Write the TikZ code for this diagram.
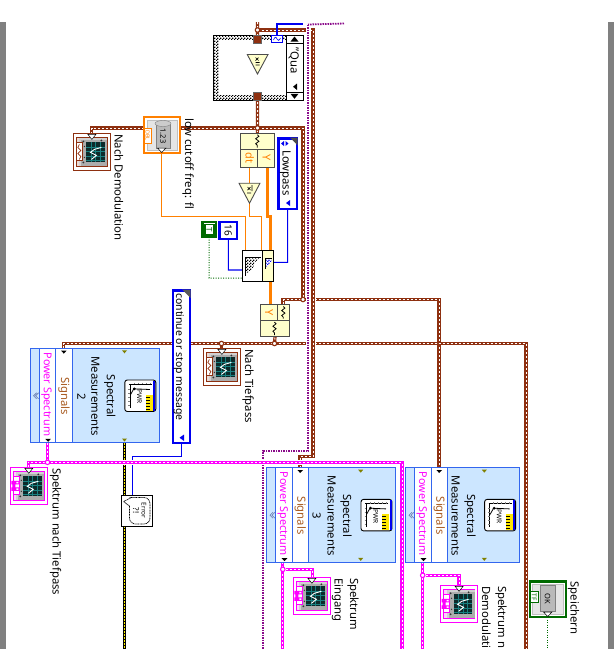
\documentclass[tikz,border=0pt]{standalone}
\usepackage{fontspec}
\setmainfont{Noto Sans}
\usetikzlibrary{patterns,decorations.pathmorphing}
\definecolor{brn}{HTML}{8E3010}
\definecolor{pnk}{HTML}{FF00FF}
\definecolor{prp}{HTML}{8A0A8A}
\definecolor{org}{HTML}{FF8000}
\definecolor{blu}{HTML}{0000F0}
\definecolor{grn}{HTML}{006A00}
\definecolor{smblue}{HTML}{CCE6FF}
\definecolor{smedge}{HTML}{3366EE}
\definecolor{cream}{HTML}{FFFFCC}
\definecolor{graybar}{HTML}{808080}
\definecolor{sigtxt}{HTML}{A85A20}
\definecolor{olive}{HTML}{808000}
\definecolor{screen}{HTML}{0C2A2A}
\pgfdeclarepatternformonly{finechk}{\pgfpointorigin}{\pgfqpoint{3pt}{3pt}}{\pgfqpoint{3pt}{3pt}}{%
  \pgfpathrectangle{\pgfpointorigin}{\pgfqpoint{1.5pt}{1.5pt}}%
  \pgfpathrectangle{\pgfqpoint{1.5pt}{1.5pt}}{\pgfqpoint{1.5pt}{1.5pt}}%
  \pgfusepath{fill}}
\pgfdeclarelayer{wires}
\pgfsetlayers{wires,main}
\tikzset{
  box/.style={rectangle,inner sep=0pt,outer sep=0pt,draw=black},
  cblock/.style={box,draw=black!70,line width=.9pt,fill=cream},
  wbrown/.style={draw=brn,line width=3.2pt,postaction={draw=white,line width=1pt,dash pattern=on 2pt off 2pt}},
  wpink/.style={draw=pnk,line width=3.2pt,postaction={draw=white,line width=.9pt,dash pattern=on 2pt off 2pt}},
  halo/.style={draw=white,line width=5pt},
  wpurple/.style={draw=prp,line width=1.8pt,dash pattern=on 1.5pt off 1pt},
  wyellow/.style={draw=black,line width=3pt,postaction={draw=yellow,line width=1.4pt,dash pattern=on 2pt off 1pt}},
  wblue/.style={draw=blu,line width=1.1pt},
  worg/.style={draw=org,line width=1pt},
  worgt/.style={draw=org,line width=3pt},
  wgreen/.style={draw=grn,line width=1pt,dash pattern=on 1pt off 1.5pt},
  lbl/.style={rotate=-90,anchor=base west,inner sep=0pt,font=\fontsize{11.3}{13}\selectfont},
  clbl/.style={rotate=-90,anchor=base,inner sep=0pt,font=\fontsize{11.3}{13}\selectfont},
  jbrown/.style={circle,draw=brn,line width=1.1pt,fill=white,minimum size=4.5pt,inner sep=0pt},
  jpink/.style={circle,draw=pnk,line width=1.1pt,fill=white,minimum size=4.5pt,inner sep=0pt},
  chk/.style={fill=white,postaction={pattern=finechk}},
}
\newcommand\mybx[7]{%
  \pgfmathsetmacro\cxx{(#2+#4)/2}\pgfmathsetmacro\cyy{(#3+#5)/2}%
  \pgfmathsetmacro\www{abs(#4-#2)}\pgfmathsetmacro\hhh{abs(#5-#3)}%
  \node[box,#6,minimum width=\www pt,minimum height=\hhh pt] (#1) at (\cxx,\cyy) {#7};}
% wave glyph
\newcommand\wv[2]{\draw[black,line width=.8pt,decorate,decoration={snake,amplitude=1.6pt,segment length=5pt}] (#1,#2-6.5) -- (#1,#2+6.5);}
% power-spectrum icon
\newcommand\pwricon[3]{%
  \begin{scope}[shift={(#2,#3)}]
    \node[box,line width=.9pt,fill=white,rounded corners=2.5pt,minimum width=31pt,minimum height=31.5pt] (#1) at (15.5,15.75) {};
    \fill[blu] (28.6,1) rectangle (30.6,30.5);
    \draw[black,line width=.6pt] (4,4.3) -- (27,4.3) (5,4.3) -- (5,28);
    \foreach \t in {9,13,17,21,25} {\draw[gray,line width=.5pt] (\t,2.8) -- (\t,4.3);}
    \foreach \t in {9,13,17,21,25} {\draw[gray,line width=.5pt] (3.5,\t) -- (5,\t);}
    \draw[black,line width=.8pt] (5.5,15) -- (9,8.8) -- (25,9.5);
    \fill[black] (9.5,8.8) circle (1.5pt);
    \fill[yellow!90!orange] (21.3,15) rectangle (28.3,30.5);
    \foreach \t in {17,20,23,26,29} {\draw[black,line width=.5pt] (21.3,\t) -- (25,\t);}
    \node[rotate=-90,inner sep=0pt,font=\fontsize{6.5}{7}\selectfont\bfseries] (#1t) at (14.7,17) {PWR};
  \end{scope}}
% Spectral Measurements express VI
\newcommand\specm[6]{%  name, x0, y0, right edge x, text lines offset, number
  \begin{scope}[shift={(#2,#3)}]
    \pgfmathsetmacro\wdd{#4-#2}
    \mybx{#1}{0}{0}{\wdd}{94.6}{draw=smedge,line width=1pt,fill=smblue}{}
    \mybx{#1ps}{9.2}{0}{25.3}{94.6}{draw=smedge,line width=1pt,fill=white}{}
    \mybx{#1sg}{25.3}{0}{42}{94.6}{draw=smedge,line width=1pt,fill=white}{}
    \draw[gray!60!smedge,line width=.6pt] (6.3,44.5) -- (3.3,47.5) -- (6.3,50.5) (8.3,44.5) -- (5.3,47.5) -- (8.3,50.5);
    \node[clbl,pnk,font=\fontsize{10.8}{13}\selectfont] (#1pt) at (13.5,46) {Power Spectrum};
    \node[clbl,sigtxt] (#1st) at (30.7,48) {Signals};
    \fill[black] (30.7,2.3) -- (36.3,2.3) -- (33.5,5.3) -- cycle;
    \fill[black] (15,90.5) -- (20.6,90.5) -- (17.8,93.5) -- cycle;
    \pgfmathsetmacro\tx{\wdd-37.5}
    \fill[olive] (\tx,2) -- (\tx+5,2) -- (\tx+2.5,5) -- cycle;
    \fill[olive] (\tx,90.2) -- (\tx+5,90.2) -- (\tx+2.5,93.2) -- cycle;
    \node[clbl] (#1l1) at (#5+15.5,48) {Spectral};
    \node[clbl] (#1l2) at (#5,48) {Measurements};
    #6
  \end{scope}%
  \pgfmathsetmacro\ix{#4-34.7}\pgfmathsetmacro\iy{#3+31.7}%
  \pwricon{#1i}{\ix}{\iy}}
% graph indicator
\newcommand\indic[5]{% name,x,y,colour,tag content
  \begin{scope}[shift={(#2,#3)}]
    \node[box,draw=#4,line width=1pt,fill=white,minimum size=37.2pt] (#1) at (18.6,18.6) {};
    \draw[#4,line width=1pt,fill=#4!18!white] (3.3,3.7) rectangle (34,33.5);
    \fill[gray!65] (6,5) rectangle (34,32.5);
    \fill[gray!35] (6,5) rectangle (34,7);
    \fill[gray!35] (6,5) rectangle (8,32.5);
    \fill[screen] (13,9) rectangle (31.5,28.5);
    \foreach \t in {13.5,18,22.5,27} {\draw[teal!80!gray,line width=.5pt] (13,\t) -- (31.5,\t);}
    \foreach \t in {17.6,22.2,26.8} {\draw[teal!80!gray,line width=.5pt] (\t,9) -- (\t,28.5);}
    \draw[white,line width=.9pt] (28,14) -- (21,16) -- (17,19) -- (23,22) -- (18,26);
    \fill[black!80] (10,8) circle (1pt) (10,29) circle (1pt) (28,7) circle (1pt) (11,13) circle (.7pt) (11,24) circle (.7pt);
    \draw[#4,line width=1pt,fill=white] (3.3,9) rectangle (9,27.5);
    #5
    \fill[white,draw=black,line width=.5pt] (14.5,1) -- (22.5,1) -- (18.5,6) -- cycle;
  \end{scope}}
\newcommand\tagwave{\draw[brn,line width=.7pt] (6,11) -- (4.5,14) -- (7.5,17) -- (4.5,20) -- (7.5,23) -- (6,26);}
\newcommand\tagpink{\fill[pnk] (1,13.5) rectangle (9,17) (1,20) rectangle (9,23.5) (2,16) rectangle (5,21);\fill[white] (6,14.5) rectangle (8,16) (6,21) rectangle (8,22.5);}
\begin{document}
\begin{tikzpicture}[x=1pt,y=-1pt]
\useasboundingbox (0,0) rectangle (614,649);
\fill[graybar] (0,22) rectangle (6,649);
\fill[graybar] (608,22) rectangle (614,649);

% ---------- loop / case structure
\mybx{loop}{213.5}{35}{303}{100}{line width=1pt,chk}{}
\mybx{loopin}{218.7}{40}{286}{95}{draw=none,fill=white}{}
\mybx{sel}{286}{35}{303}{100}{line width=1pt,fill=white}{}
\draw[black,line width=1pt] (286,43) -- (303,43) (286,92.3) -- (303,92.3);
\fill[black] (290.5,41.5) -- (298.5,41.5) -- (294.5,36.5) -- cycle;
\fill[black] (290.5,93.8) -- (298.5,93.8) -- (294.5,98.8) -- cycle;
\fill[black] (297,83.5) -- (297,90) -- (293,86.7) -- cycle;
\node[lbl] (seltxt) at (290.5,47.5) {"Qua};
\mybx{tun1}{253.5}{35.5}{261.5}{43.5}{draw=black!60,line width=.4pt,fill=brn}{}
\mybx{tun2}{253.5}{92.5}{261.5}{100}{draw=black!60,line width=.4pt,fill=brn}{}
\mybx{blt}{271.5}{35.5}{282.5}{42.5}{draw=blu,line width=1.2pt,fill=white}{}
\draw[blu,line width=.6pt] (273.5,40) .. controls (275,36.5) and (276,36.5) .. (277,39) .. controls (278,41) and (279,41) .. (280.5,38);
\coordinate (t1n) at (247.3,54.5);
\draw[draw=black!70,line width=.9pt,fill=cream] (t1n) -- (268,54.5) -- (257.5,74) -- cycle;
\draw[black,line width=.7pt] (255.5,57.5) -- (258.5,60.5) (258.5,57.5) -- (255.5,60.5) (255.5,62.5) -- (259.5,62.5) (255.5,65) -- (259.5,65);
\coordinate (t1top) at (257.5,54.5);

% ---------- Y / dt
\mybx{ydt}{240.7}{133}{274}{167}{cblock}{}
\draw[black!70,line width=.9pt] (240.7,149.3) -- (274,149.3) (257.3,149.3) -- (257.3,167);
\wv{257.3}{141.2}
\node[clbl,org,font=\fontsize{11}{12}\selectfont] (dttxt) at (245.5,158) {dt};
\node[clbl,org,font=\fontsize{11}{12}\selectfont] (ytxt) at (262.5,158) {Y};
\coordinate (t2n) at (239,183.2);
\draw[draw=black!70,line width=.9pt,fill=cream] (t2n) -- (260,183.2) -- (249.5,203.2) -- cycle;
\draw[black,line width=.7pt] (247.5,187) -- (250.5,190) (250.5,187) -- (247.5,190) (252,185) -- (252,191) (247,193) -- (251,193);

% ---------- Lowpass
\mybx{lowp}{278.5}{138.5}{296.7}{209}{draw=blu,line width=2.2pt,fill=white}{}
\fill[black!70] (290,137.5) -- (297.7,137.5) -- (297.7,145.5) -- cycle;
\fill[blu] (284,141) -- (284,146) -- (281,143.5) -- cycle;
\fill[blu] (285.5,141) -- (285.5,146) -- (288.5,143.5) -- cycle;
\fill[blu] (290,200) -- (290,206) -- (286,203) -- cycle;
\node[clbl] (lptxt) at (282.5,173) {Lowpass};

% ---------- constants
\mybx{cT}{202.5}{222}{216}{237}{draw=grn,line width=2.2pt,fill=white}{}
\fill[grn] (204,223.5) rectangle (214.5,235.5);
\mybx{cTi}{205.5}{225}{213}{234}{draw=none,fill=white}{}
\node[rotate=-90,inner sep=0pt,font=\fontsize{8}{9}\selectfont\bfseries,grn] (cTt) at (209.3,229.5) {T};
\mybx{c16}{219.5}{222}{237.2}{239.2}{draw=blu,line width=2.2pt,fill=white}{}
\node[rotate=-90,inner sep=0pt,font=\fontsize{10}{11}\selectfont] (c16t) at (228.3,230.5) {16};

% ---------- filter
\mybx{filt}{242.3}{250}{273.3}{281.5}{line width=1pt,fill=white}{}
\mybx{filtr}{262.3}{250}{273.3}{281.5}{line width=1pt,fill=cream}{}
\fill[white,postaction={pattern=finechk}] (246,258.3) -- (259.5,258.3) -- (254.5,262.5) -- (253,268) -- (248,272.5) -- (246,272.5) -- cycle;
\draw[black,line width=.8pt] (245.3,257.7) -- (260.5,257.7) (245.3,257.7) -- (245.3,276);
\fill[white,postaction={pattern=finechk,pattern color=blue}] (266,258) -- (271.3,258) -- (271.3,262) -- (266,267) -- cycle;
\draw[black,line width=.7pt] (265.5,258) -- (271.5,258) (265.5,258) -- (265.5,269);

% ---------- Y out block
\mybx{ywv}{260.7}{304}{289.3}{336.7}{cblock}{}
\draw[black!70,line width=.9pt] (260.7,320.7) -- (289.3,320.7) (277.3,304) -- (277.3,320.7);
\node[clbl,org,font=\fontsize{11}{12}\selectfont] (y2txt) at (265,312.3) {Y};
\draw[black,line width=.8pt,decorate,decoration={snake,amplitude=1.6pt,segment length=5pt}] (283.3,306.5) -- (283.3,318.5);
\wv{274.5}{328.7}

% ---------- low cutoff control
\mybx{ctrl}{144}{117}{180}{152.8}{draw=org,line width=2.4pt,fill=white}{}
\mybx{ctrli}{147}{120}{177.5}{150}{draw=gray!50,line width=.5pt,fill=gray!20}{}
\mybx{ctrlt}{144.5}{128}{151}{143}{draw=org,line width=1pt,fill=white}{}
\node[rotate=-90,inner sep=0pt,font=\fontsize{5.5}{6}\selectfont\bfseries,org] (dbl) at (147.7,135.5) {DBL};
\mybx{knob}{156}{124}{170}{148}{draw=gray,line width=.5pt,fill=gray!55}{}
\fill[gray!40,draw=gray] (163,123.5) ellipse (8pt and 3pt);
\node[rotate=-90,inner sep=0pt,font=\fontsize{7.5}{8}\selectfont] (val) at (163,136) {1.23};
\fill[white,draw=black,line width=.5pt] (157.5,148) -- (166,148) -- (161.7,152.5) -- cycle;

% ---------- continue message
\mybx{cont}{172.8}{290.5}{189.6}{442.8}{draw=blu,line width=2.2pt,fill=white}{}
\fill[black!65] (182,289.5) -- (190.6,289.5) -- (190.6,298) -- cycle;
\fill[blu] (184,434.5) -- (184,441) -- (179.5,437.7) -- cycle;
\node[lbl,font=\fontsize{10.45}{13}\selectfont] (conttxt) at (176,293) {continue or stop message};

% ---------- spectral measurement blocks
\specm{smA}{30.3}{348.3}{159.5}{61}{\node[clbl] (smAn) at (47,48) {2};}
\specm{smB}{266.7}{467.7}{395.7}{61}{\node[clbl] (smBn) at (46,48) {3};}
\specm{smC}{405.7}{467.7}{519.3}{46}{}

% ---------- error box
\mybx{err}{121.5}{495.3}{152.5}{526.5}{line width=1pt,fill=white}{}
\draw[black,line width=.7pt,dash pattern=on 1pt off .6pt,rounded corners=6pt] (129.5,497.5) -- (150,497.5) -- (150,524) -- (129.5,524) -- (129.5,506);
\draw[black,line width=.7pt,dash pattern=on 1pt off .6pt] (129.5,506) -- (123.5,501.5) -- (131,497.8);
\node[rotate=-90,inner sep=0pt,font=\fontsize{6.5}{7}\selectfont] (errt) at (144,510.5) {Error};
\node[rotate=-90,inner sep=0pt,font=\fontsize{8}{9}\selectfont\bfseries] (errq) at (136,510.5) {?!};

% ---------- indicators
\indic{iDem}{73.4}{133.4}{brn}{\tagwave}
\indic{iTief}{203.4}{348.4}{brn}{\tagwave}
\indic{iSnt}{10.3}{467.3}{pnk}{\tagpink}
\indic{iEin}{293.4}{577.3}{pnk}{\tagpink}
\indic{iDm2}{440.6}{585.3}{pnk}{\tagpink}

% ---------- Speichern button
\mybx{btn}{530}{581.5}{565.6}{617}{draw=grn,line width=2.2pt,fill=white}{}
\mybx{btni}{532.5}{584}{563.3}{614.5}{draw=gray!50,line width=.5pt,fill=gray!20}{}
\mybx{btnt}{530.5}{591.7}{538}{602.7}{draw=grn,line width=1pt,fill=white}{}
\node[rotate=-90,inner sep=0pt,font=\fontsize{6.5}{7}\selectfont\bfseries,grn] (tf) at (534.3,597.2) {TF};
\mybx{btnk}{540}{585}{555}{611.7}{draw=gray,line width=.5pt,fill=gray!55}{}
\node[rotate=-90,inner sep=0pt,font=\fontsize{7.5}{8}\selectfont] (oktxt) at (547.5,598.5) {OK};
\fill[white,draw=black,line width=.5pt] (543.5,612) -- (552,612) -- (547.7,616.5) -- cycle;

% ---------- labels
\node[lbl] (lDem) at (114.5,134) {Nach Demodulation};
\node[lbl] (lCut) at (185,118) {low cutoff freq: fl};
\node[lbl] (lTief) at (245,349) {Nach Tiefpass};
\node[lbl] (lSnt) at (52.5,468) {Spektrum nach Tiefpass};
\node[lbl] (lEin1) at (350,578) {Spektrum};
\node[lbl] (lEin2) at (334.5,578) {Eingang};
\node[lbl] (lDm1) at (498,586) {Spektrum n};
\node[lbl] (lDm2) at (482,586) {Demodulati};
\node[lbl] (lSp) at (570.5,581.5) {Speichern};

% ---------- junction coordinates
\coordinate (top) at (257.5,22);
\coordinate (cornerA) at (313,30);
\coordinate (jb2) at (257.5,128);
\coordinate (jb3) at (303,299.5);
\coordinate (jb4) at (221.5,343.5);
\coordinate (jb5) at (274.5,343.5);
\coordinate (cpA) at (63.3,343.5);
\coordinate (cpB) at (526,343.5);
\coordinate (ybot) at (526,649);
\node[jbrown] (j1) at (257.5,30) {};
\node[jbrown] (j2) at (jb2) {};
\node[jbrown] (j3) at (jb3) {};
\node[jbrown] (j4) at (jb4) {};
\node[jbrown] (j5) at (jb5) {};
\node[jpink] (j6) at (47.5,462.3) {};
\node[jpink] (j7) at (282.8,569.3) {};
\node[jpink] (j8) at (422.7,575.3) {};

\begin{pgfonlayer}{wires}
  % brown
  \draw[wbrown] (top) -- (257.5,128) -- (ydt.north);
  \draw[wbrown] (91.7,133.5) -- (91.7,128) -- (303,128) -- (jb3);
  \draw[wbrown] (283,304) -- (283,299.5) -- (439,299.5) -- (439,467.7);
  \draw[wbrown] (63.3,348.3) -- (cpA) -- (cpB) -- (ybot);
  \draw[wbrown] (jb4) -- (221.5,348.4);
  \draw[wbrown] (jb5) -- (ywv.south);
  \draw[draw=white,line width=6pt] (313,40) -- (313,450);
  \draw[wbrown] (257.5,30) -- (cornerA) -- (313,456.5) -- (300,456.5) -- (300,467.7);
  % purple
  \draw[wpurple] (344,23.5) -- (308,24.5);
  \draw[halo] (308,28) -- (308,450);
  \draw[wpurple] (308,24.5) -- (308,451) -- (263,451) -- (263,649);
  % yellow
  \draw[wyellow] (124.7,443) -- (124.7,495);
  \draw[wyellow] (124.7,526) -- (124.7,649);
  % blue
  \draw[wblue] (blt.north) -- (277,24) -- (302,24) -- (302,22.5);
  \draw[wblue] (181.2,442.8) -- (181.2,456.7) -- (132.3,456.7) -- (132.3,495.3);
  \draw[wblue] (lowp.south) -- (287.6,262.3) -- (273.3,262.3);
  \draw[wblue] (c16.south) -- (228.3,270) -- (242.3,270);
  % green
  \draw[wgreen] (cT.south) -- (209.2,278) -- (242.3,278);
  \draw[wgreen] (btn.south) -- (547.8,649);
  % orange
  \draw[worg] (161.7,152.8) -- (161.7,216.7) -- (245.7,216.7) -- (245.7,250);
  \draw[worg] (249.5,167) -- (249.5,183.2);
  \draw[worg] (249.5,203.2) -- (249.5,216.7) -- (261.7,216.7) -- (261.7,250);
  \draw[worgt] (267.3,167) -- (267.3,216) -- (270,216) -- (270,250);
  \draw[worgt] (270,281.5) -- (270,304);
  % pink
  \draw[wpink] (47.5,443) -- (j6);
  \draw[wpink] (282.8,562.3) -- (282.8,649);
  \draw[wpink] (j7) -- (312.2,569.3) -- (312.2,577.3);
  \draw[wpink] (422.7,562.3) -- (422.7,649);
  \draw[wpink] (j8) -- (459,575.3) -- (459,585.3);
  \draw[halo] (30,462.3) -- (399,462.3);
  \draw[wpink] (28.3,467.3) -- (28.3,462.3) -- (402,462.3) -- (402,649);
\end{pgfonlayer}
\end{tikzpicture}
\end{document}
